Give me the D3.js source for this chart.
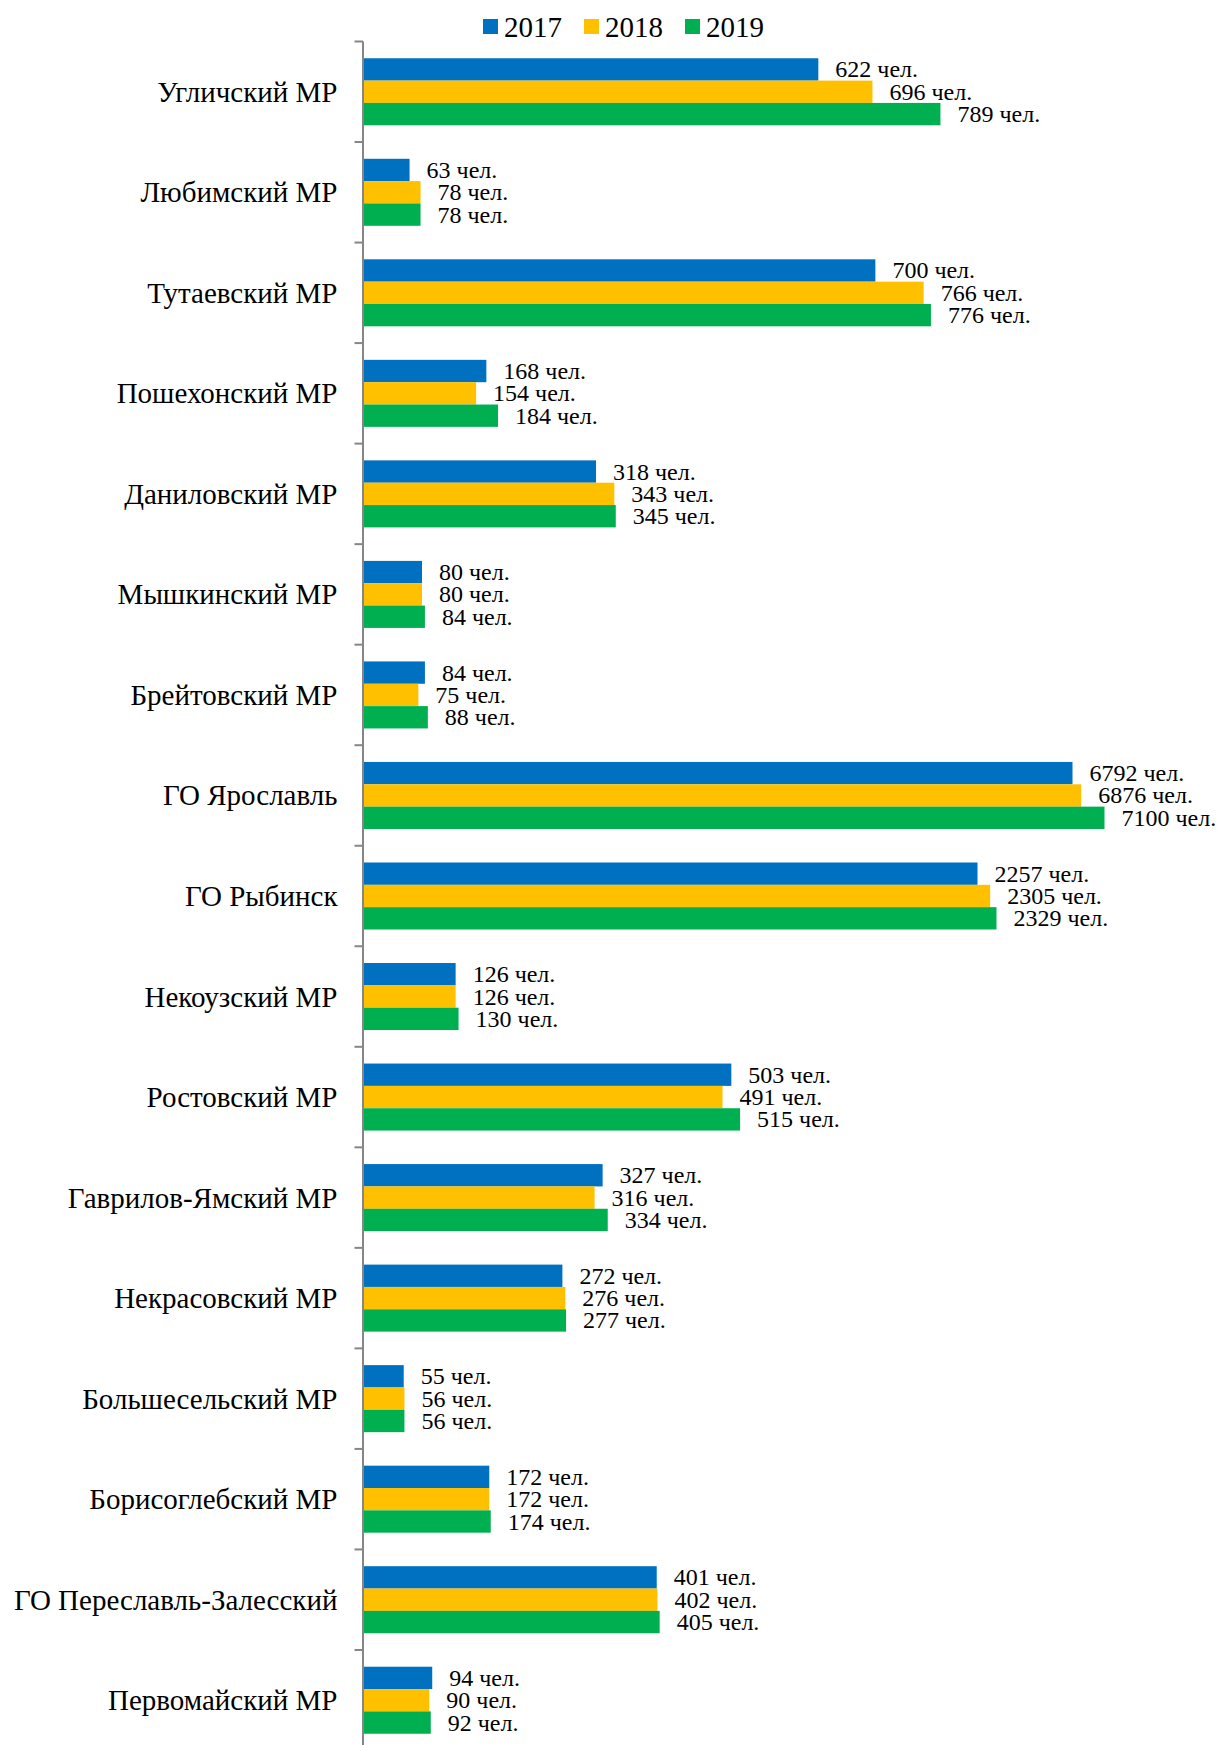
<!DOCTYPE html>
<html>
<head>
<meta charset="utf-8">
<script src="https://cdn.jsdelivr.net/npm/d3@7"></script>
<style>
  html, body { margin: 0; padding: 0; background: #fff; }
  svg { display: block; }
  text { font-family: "Liberation Serif", "Times New Roman", serif; fill: #000; }
</style>
</head>
<body>
<svg id="chart" width="1218" height="1745"></svg>
<script>
const categories = [
  "Угличский МР", "Любимский МР", "Тутаевский МР", "Пошехонский МР",
  "Даниловский МР", "Мышкинский МР", "Брейтовский МР", "ГО Ярославль",
  "ГО Рыбинск", "Некоузский МР", "Ростовский МР", "Гаврилов-Ямский МР",
  "Некрасовский МР", "Большесельский МР", "Борисоглебский МР",
  "ГО Переславль-Залесский", "Первомайский МР"
];
const seriesNames = ["2017", "2018", "2019"];
const values2017 = [622, 63, 700, 168, 318, 80, 84, 6792, 2257, 126, 503, 327, 272, 55, 172, 401, 94];
const values2018 = [696, 78, 766, 154, 343, 80, 75, 6876, 2305, 126, 491, 316, 276, 56, 172, 402, 90];
const values2019 = [789, 78, 776, 184, 345, 84, 88, 7100, 2329, 130, 515, 334, 277, 56, 174, 405, 92];
const unitLabel = "чел.";
const colors = ["#0070C0", "#FFC000", "#00B050"];

(function () {
const series = [values2017, values2018, values2019];

const svg = d3.select("#chart");
const axisX = 363.5;
const plotTop = 41.5, plotBottom = 1750.5;

// Non-uniform (piecewise) value scale, as in the reference picture
const x = d3.scaleLinear()
  .domain([0, 800, 2257, 2329, 6792, 7100])
  .range([0, 585, 614, 633, 709, 741])
  .clamp(true);

const y = d3.scaleBand()
  .domain(categories)
  .range([plotTop, plotBottom])
  .paddingInner(1/3)
  .paddingOuter(1/6);

const ySub = d3.scaleBand()
  .domain(d3.range(series.length))
  .range([0, y.bandwidth()])
  .padding(0);

const g = svg.append("g");
categories.forEach((cat, ci) => {
  series.forEach((vals, si) => {
    const v = vals[ci];
    const by = y(cat) + ySub(si);
    g.append("rect")
      .attr("x", axisX)
      .attr("y", by)
      .attr("width", x(v))
      .attr("height", ySub.bandwidth())
      .attr("fill", colors[si]);
    g.append("text")
      .attr("x", axisX + x(v) + 17)
      .attr("y", by + ySub.bandwidth() / 2 + 8)
      .attr("font-size", 24)
      .text(v + " " + unitLabel);
  });
  g.append("text")
    .attr("x", 337.5)
    .attr("y", y(cat) + y.bandwidth() / 2 + 10)
    .attr("text-anchor", "end")
    .attr("font-size", 29)
    .text(cat);
});

const axisG = svg.append("g").attr("stroke", "#868686").attr("stroke-width", 2);
axisG.append("line")
  .attr("x1", axisX - 0.5).attr("x2", axisX - 0.5)
  .attr("y1", plotTop).attr("y2", plotBottom);
const step = y.step();
d3.range(categories.length + 1).forEach(i => {
  const ty = plotTop + i * step;
  axisG.append("line")
    .attr("x1", axisX - 9).attr("x2", axisX - 0.5)
    .attr("y1", ty).attr("y2", ty);
});

const legendX = [483, 584, 685];
seriesNames.forEach((name, i) => {
  svg.append("rect")
    .attr("x", legendX[i]).attr("y", 19)
    .attr("width", 15).attr("height", 15)
    .attr("fill", colors[i]);
  svg.append("text")
    .attr("x", legendX[i] + 21).attr("y", 36.5)
    .attr("font-size", 29)
    .text(name);
});
})();
</script>
</body>
</html>
